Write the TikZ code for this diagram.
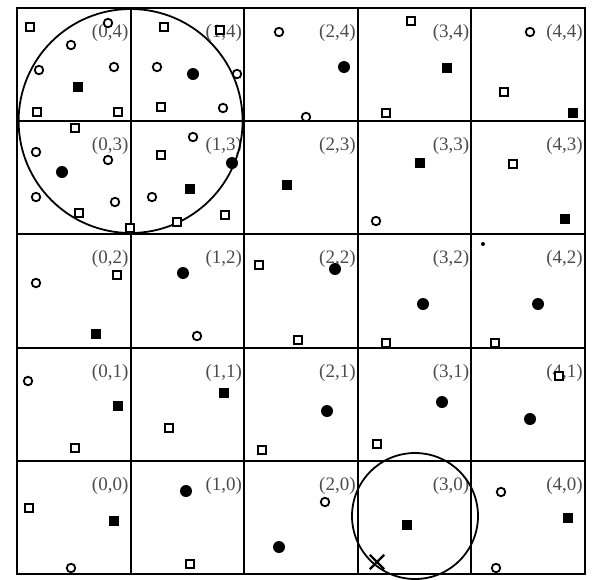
\documentclass[tikz,border=0pt]{standalone}
\usepackage{fontspec}
\setmainfont{Liberation Serif}
\usetikzlibrary{shapes.misc}

\begin{document}
\begin{tikzpicture}[
			x=1pt, y=-1pt,
			gridline/.style={line width=2pt, line cap=rect, black},
			bigring/.style={line width=1.8pt, black},
			celllabel/.style={anchor=east, inner sep=1pt, text=black!70, font=\fontsize{19}{19}\selectfont},
			opencirc/.style={circle, draw, line width=1.8pt, fill=white, minimum size=8.5pt, inner sep=0pt},
			opensq/.style={rectangle, draw, line width=1.8pt, fill=white, minimum size=8pt, inner sep=0pt},
			fillcirc/.style={circle, fill=black, minimum size=12pt, inner sep=0pt},
			fillsq/.style={rectangle, fill=black, minimum size=10.5pt, inner sep=0pt},
			tinydot/.style={circle, fill=black, minimum size=4pt, inner sep=0pt},
			crossmark/.style={cross out, draw, line width=2.4pt, minimum size=12pt, inner sep=0pt}
			]
			\useasboundingbox (0,0) rectangle (593,579);
			
			% grid of cells
			\foreach \k in {0,...,5} {
				\draw[gridline] ({17+113.6*\k},8) -- ({17+113.6*\k},574);
				\draw[gridline] (17,{8+113.2*\k}) -- (585,{8+113.2*\k});
			}
			
			% cell labels
			\foreach \i in {0,...,4}
				\foreach \j in {0,...,4}
					\node[celllabel] (lbl-\i-\j) at ({17+113.6*(\i+1)-1},{8+113.2*(4-\j)+25}) {(\i,\j)};
			
			% query ranges
			\draw[bigring] (130.6,121) circle[radius=112];
			\draw[bigring] (415,516) circle[radius=63];
			
			% open circles
			\foreach \x/\y [count=\n] in {108/23, 71/45, 39/70, 114/67, 157/67, 237/74, 223/108, 108/160, 36/152, 36/197, 115/202, 193/137, 152/197, 279/32, 306/117, 530/32, 376/221, 36/283, 197/336, 28/381, 71/568, 325/502, 496/568, 501/492}
				\node[opencirc] (oc\n) at (\x,\y) {};
			
			% open squares
			\foreach \x/\y [count=\n] in {30/27, 37/112, 118/112, 164/27, 220/30, 161/107, 75/128, 79/213, 130/228, 161/155, 177/222, 225/215, 411/21, 386/113, 504/92, 513/164, 117/275, 75/448, 169/428, 259/265, 298/340, 386/343, 495/343, 262/450, 377/444, 559/376, 29/508, 190/564}
				\node[opensq] (os\n) at (\x,\y) {};
			
			% filled circles
			\foreach \x/\y [count=\n] in {193/74, 62/172, 232/163, 344/67, 183/273, 335/269, 423/304, 538/304, 327/411, 442/402, 530/419, 186/491, 279/547}
				\node[fillcirc] (fc\n) at (\x,\y) {};
			
			% filled squares
			\foreach \x/\y [count=\n] in {78/87, 190/189, 447/68, 287/185, 420/163, 573/113, 565/219, 96/334, 118/406, 224/393, 114/521, 407/525, 568/518}
				\node[fillsq] (fs\n) at (\x,\y) {};
			
			\node[tinydot] (dot) at (483,244) {};
			\node[crossmark] (qpt) at (377,562) {};
		\end{tikzpicture}
\end{document}
